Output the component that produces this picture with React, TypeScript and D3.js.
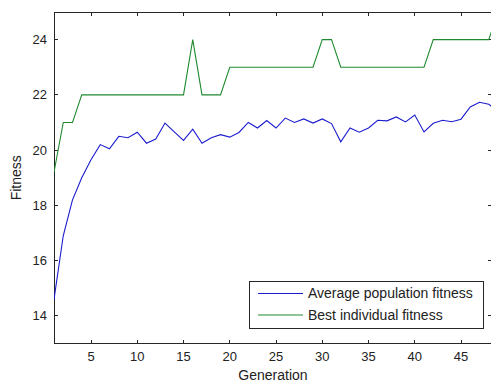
import React, { useEffect, useRef } from "react";
import * as d3 from "d3";

// values (generation 1..49)
const avgFitness = [
  14.6, 16.9, 18.2, 19.0, 19.65, 20.2, 20.05, 20.5, 20.45, 20.65,
  20.25, 20.4, 20.98, 20.66, 20.35, 20.76, 20.25, 20.45, 20.56, 20.47,
  20.64, 21.0, 20.8, 21.07, 20.8, 21.16, 21.0, 21.13, 20.98, 21.13,
  20.96, 20.3, 20.8, 20.65, 20.8, 21.08, 21.06, 21.2, 21.02, 21.27,
  20.66, 20.97, 21.08, 21.03, 21.12, 21.56, 21.73, 21.66, 21.4,
];
const bestFitness = [
  19.2, 21, 21, 22, 22, 22, 22, 22, 22, 22,
  22, 22, 22, 22, 22, 24, 22, 22, 22, 23,
  23, 23, 23, 23, 23, 23, 23, 23, 23, 24,
  24, 23, 23, 23, 23, 23, 23, 23, 23, 23,
  23, 24, 24, 24, 24, 24, 24, 24, 25,
];
const xTicks = [5, 10, 15, 20, 25, 30, 35, 40, 45];
const yTicks = [14, 16, 18, 20, 22, 24];
const seriesNames = ["Average population fitness", "Best individual fitness"];
const seriesColors = ["#1c1ccf", "#1f8a2e"];

const W = 491;
const H = 383;
const margin = { left: 54, top: 12, right: -1, bottom: 39.5 };

export default function App() {
  const ref = useRef<SVGSVGElement>(null);

  useEffect(() => {
    const svg = d3.select(ref.current);
    svg.selectAll("*").remove();
    const x0 = margin.left;
    const x1 = W - margin.right;
    const y0 = H - margin.bottom;
    const y1 = margin.top;

    const x = d3.scaleLinear().domain([1, 48.35]).range([x0, x1]);
    const y = d3.scaleLinear().domain([13, 25]).range([y0, y1]);

    svg
      .append("defs")
      .append("clipPath")
      .attr("id", "plotclip")
      .append("rect")
      .attr("x", x0)
      .attr("y", y1)
      .attr("width", x1 - x0)
      .attr("height", y0 - y1);

    const font = "'Liberation Sans', Arial, sans-serif";
    const axisColor = "#262626";

    // box
    svg
      .append("rect")
      .attr("x", x0)
      .attr("y", y1)
      .attr("width", x1 - x0)
      .attr("height", y0 - y1)
      .attr("fill", "white")
      .attr("stroke", axisColor)
      .attr("stroke-width", 1)
      .attr("shape-rendering", "crispEdges");

    // ticks pointing inward on all four sides
    const tl = 4;
    const ticks = svg.append("g").attr("stroke", axisColor).attr("shape-rendering", "crispEdges");
    xTicks.forEach((t) => {
      ticks.append("line").attr("x1", x(t)).attr("x2", x(t)).attr("y1", y0).attr("y2", y0 - tl);
      ticks.append("line").attr("x1", x(t)).attr("x2", x(t)).attr("y1", y1).attr("y2", y1 + tl);
    });
    yTicks.forEach((t) => {
      ticks.append("line").attr("x1", x0).attr("x2", x0 + tl).attr("y1", y(t)).attr("y2", y(t));
      ticks.append("line").attr("x1", x1).attr("x2", x1 - tl).attr("y1", y(t)).attr("y2", y(t));
    });

    svg
      .append("g")
      .selectAll("text")
      .data(xTicks)
      .join("text")
      .attr("x", (d) => x(d))
      .attr("y", y0 + 17)
      .attr("text-anchor", "middle")
      .style("font-family", font)
      .style("font-size", "13px")
      .attr("fill", "#222")
      .text((d) => d);

    svg
      .append("g")
      .selectAll("text")
      .data(yTicks)
      .join("text")
      .attr("x", x0 - 7)
      .attr("y", (d) => y(d))
      .attr("dy", "0.35em")
      .attr("text-anchor", "end")
      .style("font-family", font)
      .style("font-size", "13px")
      .attr("fill", "#222")
      .text((d) => d);

    svg
      .append("text")
      .attr("x", (x0 + x1) / 2)
      .attr("y", H - 3)
      .attr("text-anchor", "middle")
      .style("font-family", font)
      .style("font-size", "14px")
      .attr("fill", "#222")
      .text("Generation");

    svg
      .append("text")
      .attr("transform", `translate(21,${(y0 + y1) / 2}) rotate(-90)`)
      .attr("text-anchor", "middle")
      .style("font-family", font)
      .style("font-size", "14px")
      .attr("fill", "#222")
      .text("Fitness");

    const line = d3
      .line<number>()
      .x((_, i) => x(i + 1))
      .y((d) => y(d));

    const plot = svg.append("g").attr("clip-path", "url(#plotclip)");
    [avgFitness, bestFitness].forEach((s, k) => {
      plot
        .append("path")
        .datum(s)
        .attr("d", line)
        .attr("fill", "none")
        .attr("stroke", seriesColors[k])
        .attr("stroke-width", 1.1);
    });

    // legend
    const lg = svg.append("g").attr("transform", "translate(249,281)");
    lg.append("rect")
      .attr("width", 234)
      .attr("height", 47)
      .attr("fill", "white")
      .attr("stroke", axisColor)
      .attr("shape-rendering", "crispEdges");
    seriesNames.forEach((name, k) => {
      const ly = 12.5 + k * 21.5;
      lg.append("line")
        .attr("x1", 9)
        .attr("x2", 54)
        .attr("y1", ly)
        .attr("y2", ly)
        .attr("stroke", seriesColors[k])
        .attr("stroke-width", 1.1);
      lg.append("text")
        .attr("x", 59)
        .attr("y", ly)
        .attr("dy", "0.35em")
        .style("font-family", font)
        .style("font-size", "14px")
        .attr("fill", "#222")
        .text(name);
    });
  });

  return (
    <svg
      ref={ref}
      width={W}
      height={H}
      style={{ position: "absolute", left: 0, top: 0, background: "white" }}
    />
  );
}
